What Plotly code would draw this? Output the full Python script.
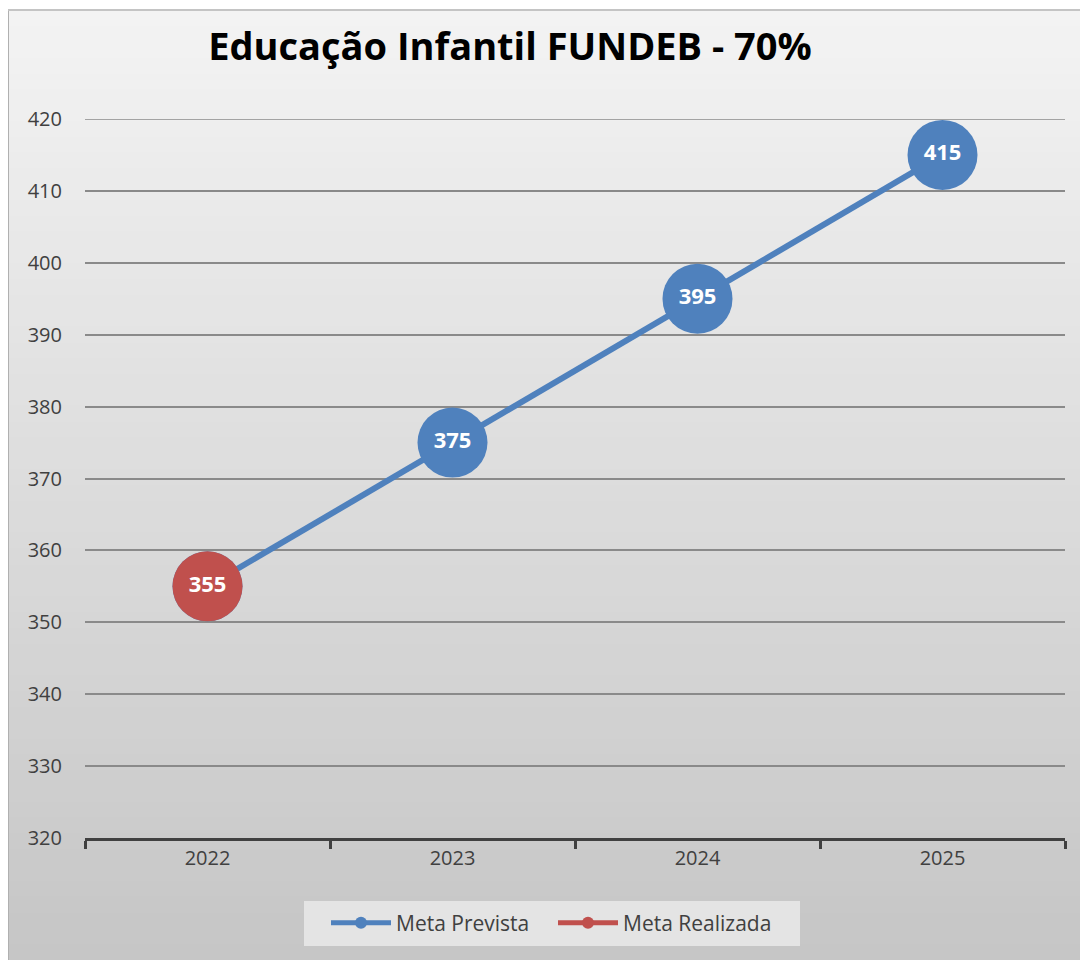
import plotly.graph_objects as go

# dados
anos = ["2022", "2023", "2024", "2025"]
meta_prevista = [355, 375, 395, 415]
meta_realizada = [355, None, None, None]

# a página tem 8px de margem no body
OFF = 8
W, H = 1080, 952
L, R, T, B = 77, 23, 111, 122
PW, PH = W - L - R, H - T - B


def px_x(px):
    return (px - OFF - L) / PW


def px_y(py):
    return (H - B - (py - OFF)) / PH


fig = go.Figure()

fig.add_trace(go.Scatter(
    x=anos, y=meta_prevista, name="Meta Prevista",
    mode="lines+markers+text",
    line=dict(color="#4f81bd", width=6),
    marker=dict(size=70, color="#4f81bd"),
    text=[str(v) for v in meta_prevista],
    textposition="middle center",
    textfont=dict(family="Open Sans", size=22, color="white", weight="bold"),
    hoverinfo="x+y",
))
fig.add_trace(go.Scatter(
    x=anos, y=meta_realizada, name="Meta Realizada",
    mode="lines+markers+text",
    line=dict(color="#c0504d", width=6),
    marker=dict(size=70, color="#c0504d"),
    text=[str(v) if v is not None else "" for v in meta_realizada],
    textposition="middle center",
    textfont=dict(family="Open Sans", size=22, color="white", weight="bold"),
    hoverinfo="x+y",
))

# fundo em degradê (faixas)
shapes = []
n = 60
top, bot = 10, 960
c0, c1 = 0xf4, 0xc6
for i in range(n):
    y0 = top + (bot - top) * i / n
    y1 = top + (bot - top) * (i + 1) / n + 1
    c = int(c0 + (c1 - c0) * (i + 0.5) / n)
    col = f"rgb({c},{c},{c})"
    shapes.append(dict(type="rect", xref="paper", yref="paper", layer="below",
                       x0=px_x(8), x1=px_x(1090), y0=px_y(y1), y1=px_y(y0),
                       fillcolor=col, line=dict(width=0)))
# borda esquerda/topo
shapes.append(dict(type="line", xref="paper", yref="paper", layer="below",
                   x0=px_x(8), x1=px_x(8), y0=px_y(962), y1=px_y(10),
                   line=dict(color="#b0b0b0", width=2)))
shapes.append(dict(type="line", xref="paper", yref="paper", layer="below",
                   x0=px_x(8), x1=px_x(1090), y0=px_y(10), y1=px_y(10),
                   line=dict(color="#c4c4c4", width=2)))
# linha de grade do topo (420)
shapes.append(dict(type="line", xref="paper", yref="y", layer="below",
                   x0=0, x1=1, y0=420, y1=420,
                   line=dict(color="#8a8a8a", width=1.5)))
# caixa da legenda
shapes.append(dict(type="rect", xref="paper", yref="paper", layer="below",
                   x0=px_x(304), x1=px_x(800), y0=px_y(946), y1=px_y(901),
                   fillcolor="#e4e4e4", line=dict(width=0)))

fig.update_layout(
    width=W, height=H,
    margin=dict(l=L, r=R, t=T, b=B),
    paper_bgcolor="white",
    plot_bgcolor="rgba(0,0,0,0)",
    title=dict(text="<b>Educação Infantil FUNDEB - 70%</b>",
               font=dict(family="Open Sans", size=38, color="black"),
               x=(510 - OFF) / W, xanchor="center",
               y=1 - (47 - OFF) / H, yanchor="middle"),
    shapes=shapes,
    showlegend=True,
    legend=dict(orientation="h", x=px_x(326), xanchor="left",
                y=px_y(923), yanchor="middle",
                bgcolor="rgba(0,0,0,0)",
                font=dict(family="Open Sans", size=21, color="#404040"),
                itemsizing="constant", itemwidth=60,
                entrywidth=152, entrywidthmode="pixels"),
    xaxis=dict(
        type="category", range=[-0.5, 3.5],
        showgrid=False, zeroline=False,
        showline=True, linecolor="#404040", linewidth=3,
        ticks="outside", tickson="boundaries", ticklen=8, tickwidth=3,
        tickcolor="#404040",
        tickfont=dict(family="Open Sans", size=20, color="#404040"),
    ),
    yaxis=dict(
        range=[320, 420], dtick=10,
        showgrid=True, gridcolor="#8a8a8a", gridwidth=1.5,
        zeroline=False, showline=False,
        ticks="", ticklabelstandoff=22,
        tickfont=dict(family="Open Sans", size=20, color="#404040"),
    ),
)

fig.write_html("out.html")
